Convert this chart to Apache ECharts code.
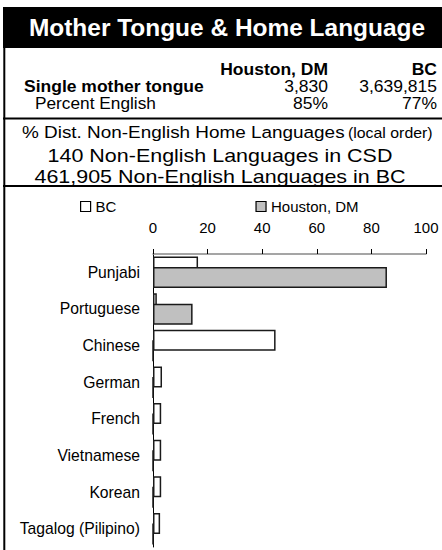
<!DOCTYPE html>
<html>
<head>
<meta charset="utf-8">
<script src="https://cdn.jsdelivr.net/npm/echarts@6/dist/echarts.min.js"></script>
<style>
html, body { margin: 0; padding: 0; background: #fff; }
#chart { width: 442px; height: 550px; }
</style>
</head>
<body>
<div id="chart"></div>
<script>
// data
var languages = ['Punjabi', 'Portuguese', 'Chinese', 'German', 'French', 'Vietnamese', 'Korean', 'Tagalog (Pilipino)'];
var bcShare = [16.5, 1.4, 44.9, 3.3, 3.0, 3.0, 3.0, 2.6];
var houstonShare = [85.7, 14.5, 0, 0, 0, 0, 0, 0];
var axisTicks = [0, 20, 40, 60, 80, 100];

var areaNames = ['Houston, DM', 'BC'];
var singleMotherTongue = ['3,830', '3,639,815'];
var percentEnglish = ['85%', '77%'];
var languageCounts = ['140 Non-English Languages in CSD', '461,905 Non-English Languages in BC'];

var FONT = "'Liberation Sans', Arial, sans-serif";

// the source picture is a bit wider than tall, so texts get a small scaleX
function txt(x, y, text, size, sx, opts) {
	opts = opts || {};
	return {
		type: 'text', x: x, y: y, scaleX: sx, silent: true,
		style: {
			text: text,
			fill: opts.fill || '#000',
			fontSize: size,
			fontWeight: opts.bold ? 'bold' : 'normal',
			fontFamily: FONT,
			align: opts.align || 'left', textAlign: opts.align || 'left',
			verticalAlign: 'middle', textVerticalAlign: 'middle'
		}
	};
}

function hline(y) {
	return { type: 'line', silent: true, shape: { x1: 3, y1: y, x2: 442, y2: y }, style: { stroke: '#000', lineWidth: 2 } };
}

var myChart = echarts.init(document.getElementById('chart'), null, { renderer: 'svg' });

myChart.setOption({
	animation: false,
	textStyle: { fontFamily: FONT },
	graphic: { elements: [
		{ type: 'rect', silent: true, shape: { x: 3, y: 7, width: 439, height: 41 }, style: { fill: '#000' } },
		{ type: 'line', silent: true, shape: { x1: 4.3, y1: 7, x2: 4.3, y2: 550 }, style: { stroke: '#000', lineWidth: 2 } },
		txt(227, 28, 'Mother Tongue & Home Language', 23.3, 1.05, { bold: true, fill: '#fff', align: 'center' }),
		// small table
		txt(328, 70, areaNames[0], 16.5, 1.06, { bold: true, align: 'right' }),
		txt(437, 70, areaNames[1], 16.5, 1.06, { bold: true, align: 'right' }),
		txt(24, 87, 'Single mother tongue', 16.5, 1.06, { bold: true }),
		txt(328, 87, singleMotherTongue[0], 16.5, 1.06, { align: 'right' }),
		txt(437, 87, singleMotherTongue[1], 16.5, 1.06, { align: 'right' }),
		txt(35, 104, 'Percent English', 16.3, 1.06, {}),
		txt(328, 104, percentEnglish[0], 16.5, 1.06, { align: 'right' }),
		txt(437, 104, percentEnglish[1], 16.5, 1.06, { align: 'right' }),
		hline(118.5),
		txt(22, 132, '% Dist. Non-English Home Languages', 16.6, 1.14, {}),
		txt(348, 133, '(local order)', 13.8, 1.15, {}),
		txt(220, 155, languageCounts[0], 19, 1.13, { align: 'center' }),
		txt(220, 176.5, languageCounts[1], 19, 1.13, { align: 'center' }),
		hline(186)
	]},
	legend: {
		left: 80, top: 199, padding: 0,
		itemWidth: 10, itemHeight: 10, itemGap: 139,
		icon: 'rect',
		itemStyle: { borderColor: '#000', borderWidth: 1.2 },
		textStyle: { fontSize: 15, color: '#000', fontFamily: FONT },
		data: ['BC', 'Houston, DM']
	},
	grid: { left: 153, right: 16, top: 254, bottom: 3 },
	xAxis: {
		type: 'value', position: 'top',
		min: axisTicks[0], max: axisTicks[axisTicks.length - 1], interval: axisTicks[1] - axisTicks[0],
		axisLine: { show: true, lineStyle: { color: '#888', width: 1.5 } },
		axisTick: { show: true, length: 5, lineStyle: { color: '#000' } },
		axisLabel: { fontSize: 15, color: '#000', margin: 19, fontFamily: FONT },
		splitLine: { show: false }
	},
	yAxis: {
		type: 'category', data: languages, inverse: true,
		axisLine: { lineStyle: { color: '#000', width: 1 } },
		axisTick: { show: false },
		axisLabel: { fontSize: 15.7, color: '#000', margin: 13, fontFamily: FONT }
	},
	series: [
		{
			name: 'BC', type: 'bar', data: bcShare, barWidth: 21, barGap: '-50%',
			itemStyle: { color: '#fff', borderColor: '#1a1a1a', borderWidth: 1.5 }
		},
		{
			name: 'Houston, DM', type: 'bar', data: houstonShare, barWidth: 21, barGap: '-50%',
			itemStyle: { color: '#c0c0c0', borderColor: '#1a1a1a', borderWidth: 1.5 }
		}
	]
});
</script>
</body>
</html>
